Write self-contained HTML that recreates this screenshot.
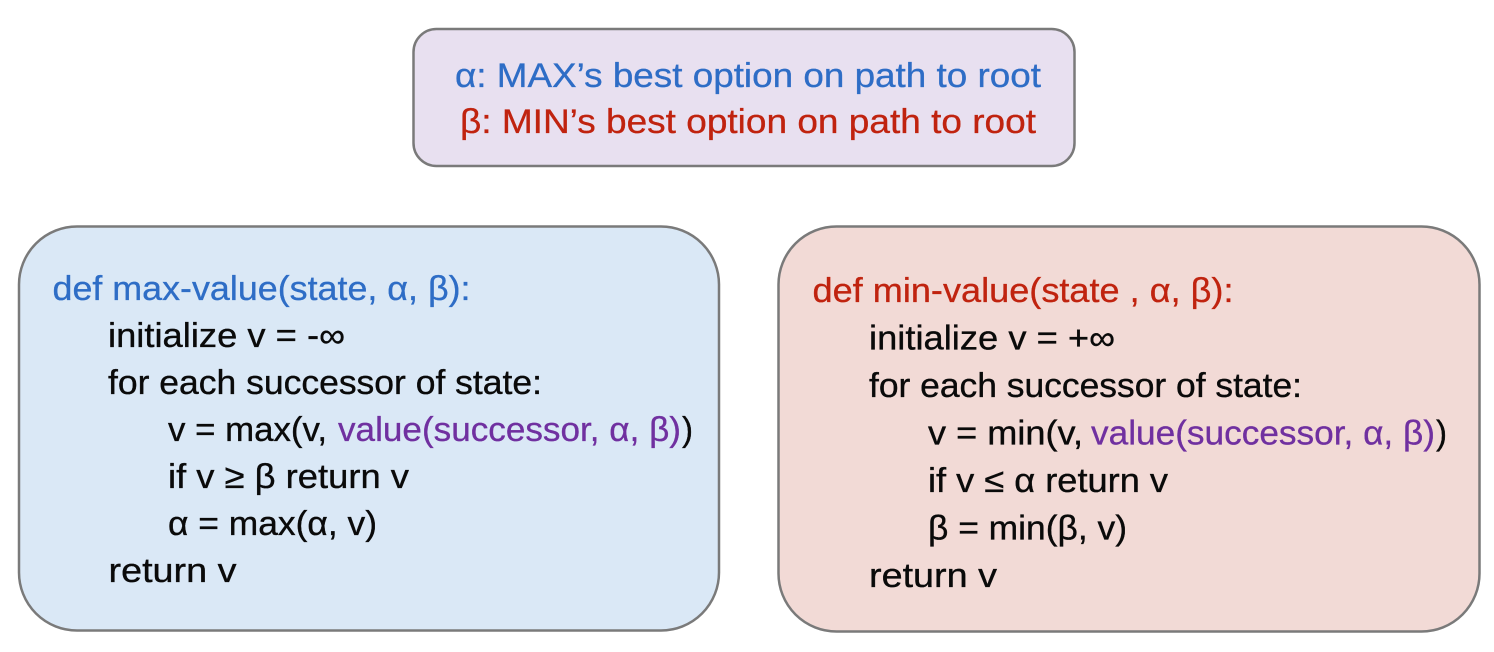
<!DOCTYPE html>
<html>
<head>
<meta charset="utf-8">
<style>
  html, body { margin: 0; padding: 0; background: #ffffff; }
  body { width: 1494px; height: 652px; overflow: hidden; }
  svg { display: block; }
  text { font-family: "Liberation Sans", "DejaVu Sans", sans-serif; font-size: 34px; }
  .k { fill: #0a0a0a; stroke: #0a0a0a; stroke-width: 0.35; }
  .b { fill: #2e6dc6; stroke: #2e6dc6; stroke-width: 0.3; }
  .r { fill: #c0230f; stroke: #c0230f; stroke-width: 0.3; }
  .p { fill: #7030a0; stroke: #7030a0; stroke-width: 0.3; }
</style>
</head>
<body>
<svg width="1494" height="652" viewBox="0 0 1494 652" xmlns="http://www.w3.org/2000/svg">
  <!-- Top box -->
  <rect x="413.5" y="29" width="661" height="137" rx="23" ry="23" fill="#e8e0f0" stroke="#7a7a7a" stroke-width="2.5"/>
  <text class="b" x="455" y="87" textLength="586" lengthAdjust="spacingAndGlyphs">α: MAX’s best option on path to root</text>
  <text class="r" x="460" y="133" textLength="576" lengthAdjust="spacingAndGlyphs">β: MIN’s best option on path to root</text>

  <!-- Left box -->
  <rect x="19" y="226.5" width="700" height="404" rx="58" ry="58" fill="#dae8f6" stroke="#7a7a7a" stroke-width="2.5"/>
  <text class="b" x="52.5" y="300" textLength="418" lengthAdjust="spacingAndGlyphs">def max-value(state, α, β):</text>
  <text class="k" x="108" y="347" textLength="237" lengthAdjust="spacingAndGlyphs">initialize v = -∞</text>
  <text class="k" x="108" y="394" textLength="434" lengthAdjust="spacingAndGlyphs">for each successor of state:</text>
  <text class="k" x="168" y="441" textLength="159" lengthAdjust="spacingAndGlyphs">v = max(v,</text>
  <text class="p" x="338" y="441" textLength="343" lengthAdjust="spacingAndGlyphs">value(successor, α, β)</text>
  <text class="k" x="682" y="441" textLength="11" lengthAdjust="spacingAndGlyphs">)</text>
  <text class="k" x="168" y="488" textLength="241" lengthAdjust="spacingAndGlyphs">if v ≥ β return v</text>
  <text class="k" x="168" y="535" textLength="209" lengthAdjust="spacingAndGlyphs">α = max(α, v)</text>
  <text class="k" x="108.5" y="582" textLength="128" lengthAdjust="spacingAndGlyphs">return v</text>

  <!-- Right box -->
  <rect x="778.5" y="226.5" width="701" height="405" rx="58" ry="58" fill="#f2dad6" stroke="#7a7a7a" stroke-width="2.5"/>
  <text class="r" x="812.5" y="302" textLength="421" lengthAdjust="spacingAndGlyphs">def min-value(state , α, β):</text>
  <text class="k" x="869" y="349.5" textLength="246" lengthAdjust="spacingAndGlyphs">initialize v = +∞</text>
  <text class="k" x="869" y="397" textLength="433" lengthAdjust="spacingAndGlyphs">for each successor of state:</text>
  <text class="k" x="928" y="444.5" textLength="155" lengthAdjust="spacingAndGlyphs">v = min(v,</text>
  <text class="p" x="1091" y="444.5" textLength="344" lengthAdjust="spacingAndGlyphs">value(successor, α, β)</text>
  <text class="k" x="1436" y="444.5" textLength="11" lengthAdjust="spacingAndGlyphs">)</text>
  <text class="k" x="928" y="492" textLength="240" lengthAdjust="spacingAndGlyphs">if v ≤ α return v</text>
  <text class="k" x="928" y="539.5" textLength="199" lengthAdjust="spacingAndGlyphs">β = min(β, v)</text>
  <text class="k" x="869" y="587" textLength="128" lengthAdjust="spacingAndGlyphs">return v</text>
</svg>
</body>
</html>
